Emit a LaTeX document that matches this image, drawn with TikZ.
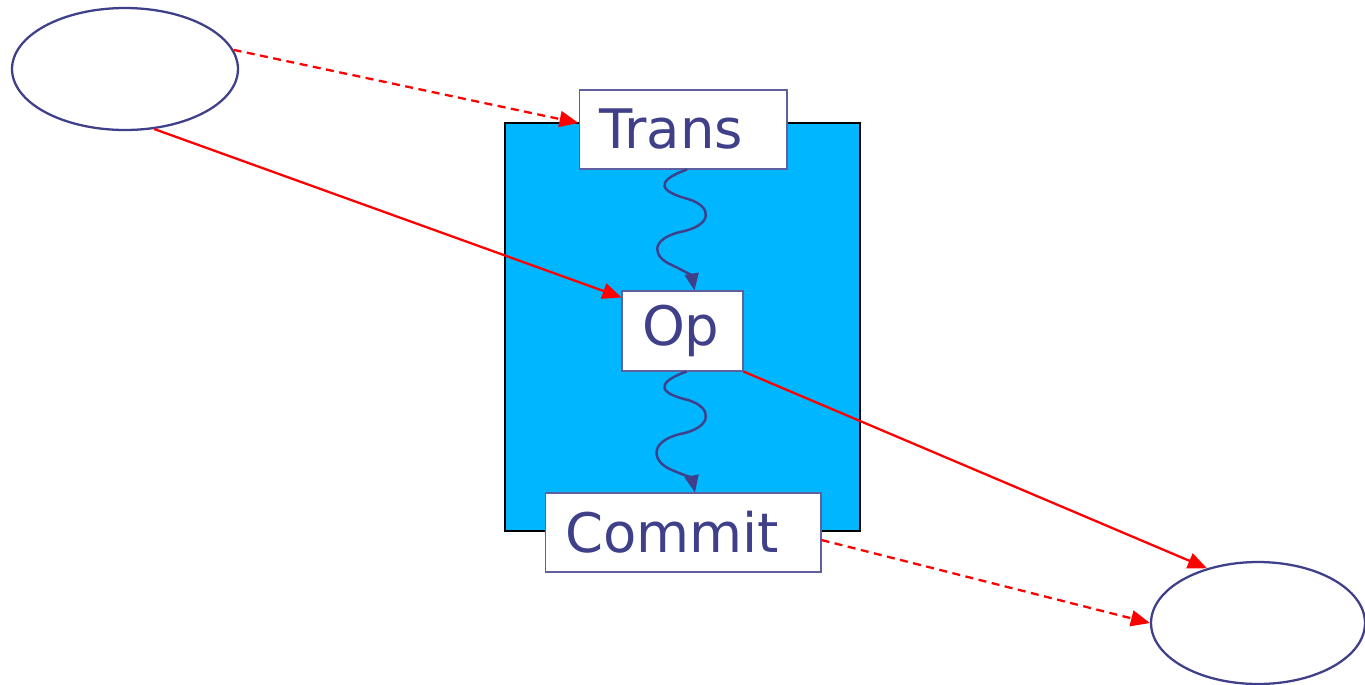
\documentclass[tikz,border=0pt]{standalone}
\usepackage{fontspec}
\setmainfont{DejaVu Sans}
\usetikzlibrary{arrows.meta}
\usetikzlibrary{shapes.geometric}

\definecolor{ink}{RGB}{64,64,138}
\definecolor{boxline}{RGB}{96,96,160}
\definecolor{txblue}{RGB}{0,182,255}

\tikzset{
  actor/.style={ellipse, draw=ink, line width=1.3pt, minimum width=4.52cm, minimum height=2.44cm},
  stepbox/.style={draw=boxline, line width=0.6pt, fill=white, inner xsep=0.4cm,
    align=left, minimum height=1.58cm, text=ink, font=\fontsize{31}{36}\selectfont},
  call/.style={red, line width=1.3pt, -{Triangle[length=0.38cm, width=0.32cm]}},
  dashcall/.style={call, dash pattern=on 0.16cm off 0.11cm},
  wave/.style={ink, line width=1.4pt, -{Triangle[length=0.34cm, width=0.28cm]}}
}

\begin{document}
\begin{tikzpicture}[x=0.02cm, y=-0.02cm]
    \useasboundingbox (0,0) rectangle (1365,684);

    % transaction block
    \draw[line width=1.2pt, fill=txblue] (505,123) rectangle (860,531);
    \coordinate (block) at (682.5,327);

    % steps inside the transaction
    \node[stepbox, text width=3.36cm] (trans) at (683,129.5) {Trans};
    \node[stepbox, text width=1.62cm, minimum height=1.6cm] (op) at (682.5,331) {Op};
    \node[stepbox, text width=4.72cm] (commit) at (683,532.5) {Commit};

    % the two parties
    \node[actor] (src) at (125,69) {};
    \node[actor, minimum width=4.28cm] (dst) at (1258,623) {};

    % wavy flow Trans -> Op -> Commit
    \draw[wave] ([xshift=0.08cm]trans.south)
        .. controls (652,182) and (662,192) .. (688,199)
        .. controls (714,207) and (712,226) .. (680,232)
        .. controls (648,240) and (654,258) .. (672,265)
        .. controls (686,272) and (692,276) .. ([xshift=0.24cm]op.north);
    \draw[wave] ([xshift=0.08cm]op.south)
        .. controls (652,384) and (662,394) .. (688,400)
        .. controls (714,408) and (712,428) .. (680,434)
        .. controls (648,442) and (652,462) .. (672,470)
        .. controls (686,476) and (692,478) .. ([xshift=0.24cm]commit.north);

    % calls between parties and steps
    \draw[dashcall] (src.10) -- ([yshift=0.13cm]trans.west);
    \draw[call] (src.-64) -- ([yshift=-0.14cm]op.north west);
    \draw[call] (op.south east) -- (dst.133);
    \draw[dashcall] ([yshift=-0.15cm]commit.east) -- (dst.west);
\end{tikzpicture}
\end{document}
